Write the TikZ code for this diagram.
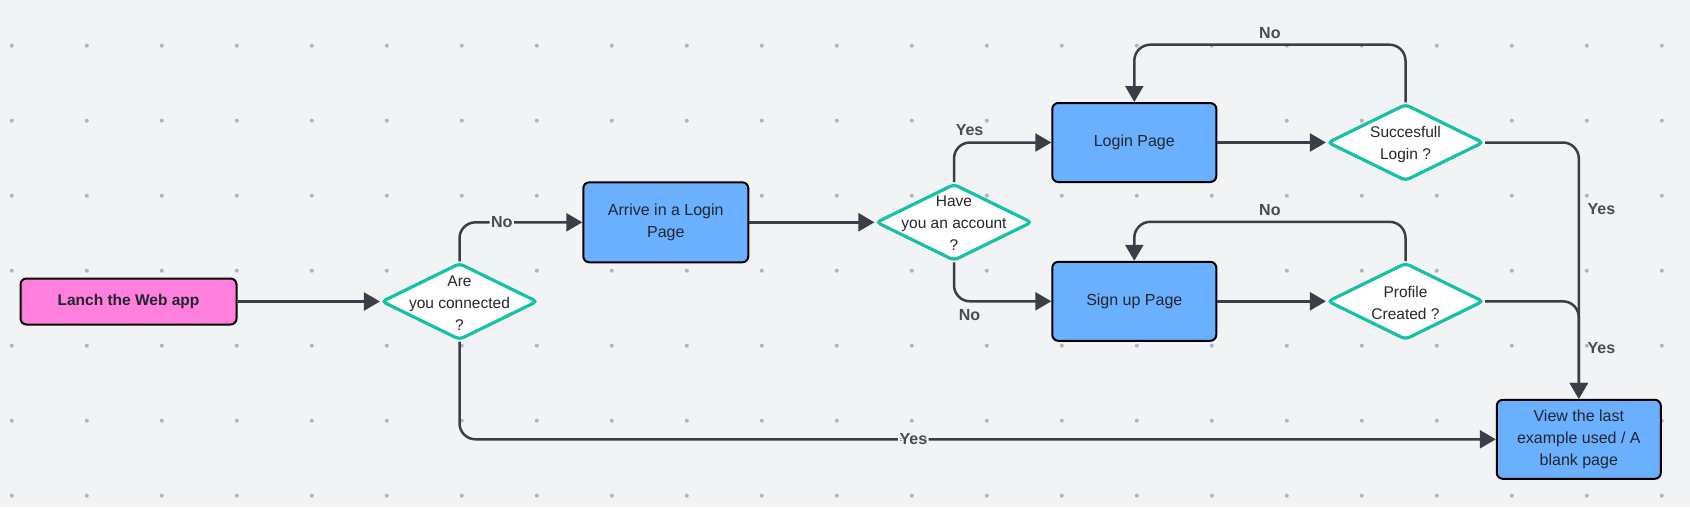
\documentclass[tikz,border=0pt]{standalone}
\usepackage{fontspec}
\setmainfont{Liberation Sans}
\usetikzlibrary{arrows.meta,shapes.geometric,calc}
\definecolor{bgc}{HTML}{F2F3F5}
\definecolor{dotc}{HTML}{B2B4B8}
\definecolor{linec}{HTML}{3A3E47}
\definecolor{tealc}{HTML}{16C1A6}
\definecolor{pinkc}{HTML}{FF80DC}
\definecolor{bluec}{HTML}{6BB0FF}
\definecolor{txtc}{HTML}{23262C}
\definecolor{lblc}{HTML}{4A4B50}
\begin{document}
\begin{tikzpicture}[x=1pt,y=-1pt,
  proc/.style={rectangle, rounded corners=6pt, draw=black, line width=2pt, fill=bluec,
    minimum width=164pt, minimum height=79pt, align=center, text=txtc,
    font=\fontsize{16}{22}\selectfont, inner sep=0pt},
  startbox/.style={proc, fill=pinkc, minimum width=216pt, minimum height=46pt,
    font=\bfseries\fontsize{15.5}{20}\selectfont},
  decis/.style={diamond, draw=tealc, line width=3.2pt, fill=white, rounded corners=4pt,
    minimum width=156pt, minimum height=77pt, inner sep=0pt},
  dtext/.style={align=center, text=txtc, font=\fontsize{15.5}{22}\selectfont, inner sep=0pt},
  conn/.style={draw=linec, line width=2.5pt, rounded corners=16pt,
    -{Triangle[length=16pt,width=18pt]}},
  lbl/.style={text=lblc, font=\bfseries\fontsize{16}{18}\selectfont, inner sep=1.5pt},
]
\useasboundingbox (0,0) rectangle (1690,507);
\fill[bgc] (0,0) rectangle (1690,507);
\foreach \i in {0,...,22}{\foreach \j in {0,...,6}{
  \fill[dotc] (11.8+75*\i,45.7+75*\j) circle (2pt);}}

% nodes
\node[startbox] (launch) at (128.5,301.5) {Lanch the Web app};
\node[decis] (are) at (459.5,301.5) {};
\node[dtext] (aret) at (459.5,303) {Are\\you connected\\?};
\node[proc, minimum width=165pt, minimum height=80pt] (arrive) at (665.8,222.3) {Arrive in a Login\\Page};
\node[decis] (have) at (954,222.3) {};
\node[dtext] (havet) at (954,223.3) {Have\\you an account\\?};
\node[proc] (login) at (1134.3,142.5) {Login Page};
\node[decis] (succ) at (1405.5,142.5) {};
\node[dtext] (succt) at (1405.5,144.5) {Succesfull\\Login ?};
\node[proc] (signup) at (1134.3,301.3) {Sign up Page};
\node[decis] (prof) at (1405.5,301.3) {};
\node[dtext] (proft) at (1405.5,303) {Profile\\Created ?};
\node[proc] (view) at (1578.8,439.3) {View the last\\example used / A\\blank page};

% connectors
\draw[conn] (launch.east) -- (are.west);
\draw[conn] (are.north) |- node[lbl, pos=0.672, fill=bgc] {No} (arrive.west);
\draw[conn] (are.south) |- node[lbl, pos=0.719, fill=bgc] {Yes} (view.west);
\draw[conn] (arrive.east) -- (have.west);
\draw[conn] (have.north) |- node[lbl, pos=0.58, above=4pt] {Yes} (login.west);
\draw[conn] (have.south) |- node[lbl, pos=0.58, below=5pt] {No} (signup.west);
\draw[conn] (login.east) -- (succ.west);
\coordinate (succtop) at ($(succ.north)+(0,-57.7)$);
\draw[conn] (succ.north) -- (succtop) -| node[lbl, pos=0.25, above=3pt] {No} (login.north);
\draw[conn] (succ.east) -| node[lbl, pos=0.63, right=6pt] {Yes} (view.north);
\draw[conn] (signup.east) -- (prof.west);
\coordinate (proftop) at ($(prof.north)+(0,-39.4)$);
\draw[conn] (prof.north) -- (proftop) -| node[lbl, pos=0.25, above=3pt] {No} (signup.north);
\draw[conn] (prof.east) -| node[lbl, pos=0.742, right=6pt] {Yes} (view.north);
\end{tikzpicture}
\end{document}
